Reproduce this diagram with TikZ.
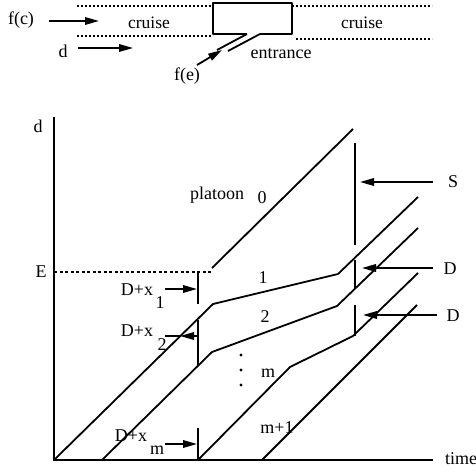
\documentclass[tikz,border=0pt]{standalone}
\usepackage{fontspec}
\setmainfont{Liberation Serif}
\usetikzlibrary{arrows.meta}
\begin{document}
\begin{tikzpicture}[x=1pt,y=-1pt,
  lbl/.style={inner sep=0pt, font=\fontsize{18}{20}\selectfont},
  ln/.style={line width=1.8pt, line join=round},
  axis/.style={line width=2pt},
  arr/.style={line width=1.8pt,-{Triangle[length=14pt,width=7.5pt]}},
  road/.style={line width=2.4pt, dash pattern=on 2pt off 2pt},
  dsh/.style={line width=1.4pt, dash pattern=on 3pt off 2.5pt}
]
\useasboundingbox (0,0) rectangle (476,471);
% ---------- top: road sketch ----------
\coordinate (rtl1) at (77,6);   \coordinate (rtl2) at (213,6);
\coordinate (rtr1) at (292,6);  \coordinate (rtr2) at (432,6);
\coordinate (rbl1) at (77,36);  \coordinate (rbl2) at (213,36);
\coordinate (rbr1) at (296,39); \coordinate (rbr2) at (432,39);
\draw[road] (rtl1) -- (rtl2);
\draw[road] (rtr1) -- (rtr2);
\draw[road] (rbl1) -- (rbl2);
\draw[road] (rbr1) -- (rbr2);
\coordinate (bx1) at (247,34); \coordinate (bx2) at (213,34);
\coordinate (bx3) at (213,3);  \coordinate (bx4) at (292,3);
\coordinate (bx5) at (292,34); \coordinate (bx6) at (260,34);
\coordinate (en1) at (217,50); \coordinate (en2) at (228,51);
\draw[ln] (bx1) -- (bx2) -- (bx3) -- (bx4) -- (bx5) -- (bx6);
\draw[ln] (bx1) -- (en1);
\draw[ln] (bx6) -- (en2);
\node[lbl] (fc) at (21,20) {f(c)};
\coordinate (fca) at (49,21); \coordinate (fcb) at (99,21);
\draw[arr] (fca) -- (fcb);
\node[lbl] (dtop) at (63,51) {d};
\coordinate (da) at (78,48); \coordinate (db) at (133,48);
\draw[arr] (da) -- (db);
\node[lbl, font=\fontsize{17.5}{20}\selectfont] (cr1) at (149,23) {cruise};
\node[lbl, font=\fontsize{17.5}{20}\selectfont] (cr2) at (362,23) {cruise};
\node[lbl] (ent) at (281,54) {entrance};
\node[lbl] (fe) at (187,76) {f(e)};
\coordinate (fea) at (197,65); \coordinate (feb) at (222,50);
\draw[arr] (fea) -- (feb);
% ---------- chart ----------
\coordinate (O) at (54,460);
\coordinate (ytop) at (54,117);
\coordinate (xend) at (433,460);
\draw[axis] (ytop) -- (O) -- (xend);
\node[lbl] (dlab) at (38,126) {d};
\node[lbl] (time) at (461,459) {time};
\node[lbl] (Elab) at (41,272) {E};
\coordinate (Eend) at (212,272);
\coordinate (Ey) at (54,272);
\draw[dsh] (Ey) -- (Eend);
% platoon 0
\coordinate (p0a) at (212,268); \coordinate (p0b) at (353,129);
\draw[ln] (p0a) -- (p0b);
% platoon 1
\coordinate (p1b) at (213,304); \coordinate (p1c) at (338,274); \coordinate (p1d) at (418,197);
\draw[ln] (O) -- (p1b) -- (p1c) -- (p1d);
% platoon 2
\coordinate (p2a) at (102,460); \coordinate (p2b) at (212,352);
\coordinate (p2c) at (337,306); \coordinate (p2d) at (418,228);
\draw[ln] (p2a) -- (p2b) -- (p2c) -- (p2d);
% platoon m
\coordinate (pma) at (198,460); \coordinate (pmb) at (290,367);
\coordinate (pmc) at (353,336); \coordinate (pmd) at (418,273);
\draw[ln] (pma) -- (pmb) -- (pmc) -- (pmd);
% platoon m+1
\coordinate (pna) at (262,460); \coordinate (pnb) at (417,305);
\draw[ln] (pna) -- (pnb);
% right verticals
\coordinate (sva) at (355,143); \coordinate (svb) at (355,245);
\coordinate (d1a) at (355,260); \coordinate (d1b) at (355,289);
\coordinate (d2a) at (355,305); \coordinate (d2b) at (355,336);
\draw[ln] (sva) -- (svb);
\draw[ln] (d1a) -- (d1b);
\draw[ln] (d2a) -- (d2b);
% left verticals
\coordinate (v1a) at (198,272); \coordinate (v1b) at (198,304);
\coordinate (v2a) at (198,320); \coordinate (v2b) at (198,365);
\coordinate (vma) at (198,428); \coordinate (vmb) at (198,460);
\draw[ln] (v1a) -- (v1b);
\draw[ln] (v2a) -- (v2b);
\draw[ln] (vma) -- (vmb);
% right arrows and labels
\node[lbl] (Slab) at (453,182) {S};
\coordinate (sa) at (433,182); \coordinate (sb) at (360,182);
\draw[arr] (sa) -- (sb);
\node[lbl] (D1lab) at (450,269) {D};
\coordinate (d1s) at (433,268); \coordinate (d1t) at (362,268);
\draw[arr] (d1s) -- (d1t);
\node[lbl] (D2lab) at (453,316) {D};
\coordinate (d2s) at (437,315); \coordinate (d2t) at (363,315);
\draw[arr] (d2s) -- (d2t);
% left arrows and labels
\node[lbl] (x1lab) at (137,290) {D+x};
\node[lbl] (x1sub) at (160,303) {1};
\coordinate (x1s) at (165,289); \coordinate (x1t) at (197,289);
\draw[arr] (x1s) -- (x1t);
\node[lbl] (x2lab) at (137,331) {D+x};
\node[lbl] (x2sub) at (162,345) {2};
\coordinate (x2s) at (198,336); \coordinate (x2t) at (180,336); \coordinate (x2u) at (165,336);
\draw[arr] (x2s) -- (x2t);
\draw[ln] (x2t) -- (x2u);
\node[lbl] (xmlab) at (131,436) {D+x};
\node[lbl] (xmsub) at (157,450) {m};
\coordinate (xms) at (165,444); \coordinate (xmt) at (197,444);
\draw[arr] (xms) -- (xmt);
% platoon labels
\node[lbl] (plat) at (217,195) {platoon};
\node[lbl] (pl0) at (262,198) {0};
\node[lbl] (pl1) at (263,278) {1};
\node[lbl] (pl2) at (265,317) {2};
\node[lbl] (plm) at (268,373) {m};
\node[lbl] (plm1) at (277,428) {m+1};
\fill (241,355) circle (1.7pt);
\fill (241,370) circle (1.7pt);
\fill (241,385) circle (1.7pt);
\end{tikzpicture}
\end{document}
